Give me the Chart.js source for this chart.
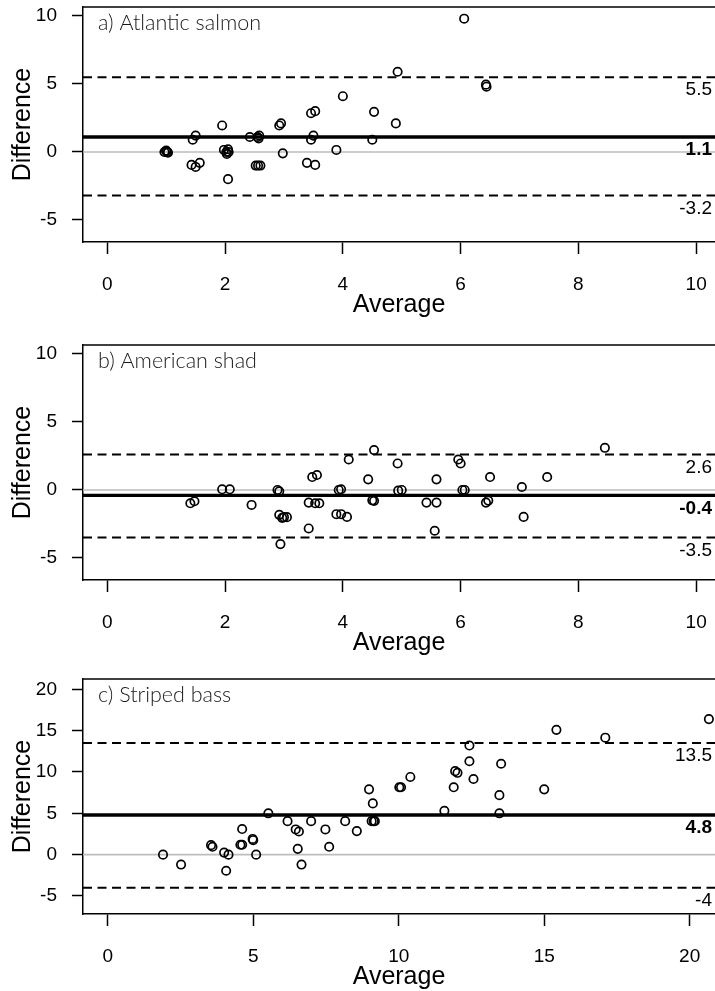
<!DOCTYPE html>
<html>
<head>
<meta charset="utf-8">
<script src="https://cdn.jsdelivr.net/npm/chart.js@4.4.0/dist/chart.umd.min.js"></script>
<style>
  body { margin: 0; background: #fff; overflow: hidden; }
  .panel { position: absolute; left: 0; width: 715px; height: 320px; }
</style>
</head>
<body>
<div class="panel" style="top:0px"><canvas id="salmon" width="715" height="320"></canvas></div>
<div class="panel" style="top:338px"><canvas id="shad" width="715" height="320"></canvas></div>
<div class="panel" style="top:672px"><canvas id="bass" width="715" height="320"></canvas></div>
<script>
// a) Atlantic salmon
const salmonAvg = [0.97, 1.0, 1.02, 1.03, 1.0, 1.45, 1.5, 1.43, 1.5, 1.57, 1.95, 1.98, 2.02, 2.03, 2.06, 2.05, 2.05,
  2.42, 2.55, 2.58, 2.57, 2.52, 2.56, 2.6, 2.92, 2.95, 2.98, 3.46, 3.53, 3.5, 3.46, 3.39, 3.53, 3.89, 4.0,
  4.53, 4.5, 4.9, 4.93, 6.06, 6.43, 6.44];
const salmonDiff = [0, 0.05, 0, -0.05, 0.1, 0.9, 1.2, -0.95, -1.1, -0.8, 1.95, 0.15, 0, -0.15, 0, 0.2, -2.0,
  1.1, 1.1, 1.2, 1.0, -1.0, -1.0, -1.0, 1.95, 2.1, -0.1, 2.85, 3.0, 1.2, 0.9, -0.8, -0.95, 0.15, 4.1,
  2.95, 0.9, 2.1, 5.9, 9.8, 4.95, 4.8];
const salmonLines = [5.5, 1.1, -3.2]; // upper limit, mean, lower limit

// b) American shad
const shadAvg = [1.41, 1.48, 1.95, 2.08, 2.45, 2.89, 2.92, 2.92, 2.97, 3.0, 3.05, 2.94, 3.42, 3.42, 3.53, 3.6,
  3.48, 3.56, 3.93, 3.97, 3.89, 3.97, 4.07, 4.1, 4.43, 4.5, 4.53, 4.53, 4.93, 4.94, 5.0, 5.42, 5.59, 5.59,
  5.56, 5.96, 6.0, 6.03, 6.07, 6.43, 6.47, 6.5, 7.04, 7.07, 7.47, 8.45];
const shadDiff = [-0.98, -0.83, 0.05, 0.05, -1.1, 0, -0.1, -1.83, -2.05, -2.0, -2.0, -3.98, -2.83, -0.93, -0.98, -0.98,
  0.95, 1.1, 0, 0.05, -1.78, -1.78, -1.98, 2.24, 0.78, -0.76, -0.8, 2.93, 1.95, -0.05, 0, -0.93, -0.93, 0.78,
  -3.0, 2.24, 1.95, 0, 0, -0.93, -0.78, 0.95, 0.22, -1.98, 0.95, 3.1];
const shadLines = [2.6, -0.4, -3.5];

// c) Striped bass
const bassAvg = [1.9, 2.52, 3.55, 3.6, 4.0, 4.15, 4.07, 4.62, 4.56, 4.62, 4.98, 5.0, 5.1, 5.52, 6.18, 6.46, 6.57,
  6.53, 6.66, 6.99, 7.48, 7.61, 8.16, 8.56, 8.98, 9.11, 9.07, 9.14, 9.18, 10.02, 10.08, 10.4, 11.57, 11.89,
  11.94, 12.02, 12.43, 12.43, 12.57, 13.46, 13.46, 13.52, 15.0, 15.42, 17.1, 20.66];
const bassDiff = [0, -1.2, 1.15, 0.95, 0.25, 0, -1.95, 3.1, 1.2, 1.2, 1.9, 1.75, 0, 5.0, 4.05, 3.05, 2.8,
  0.7, -1.2, 4.05, 3.05, 0.95, 4.05, 2.85, 7.9, 6.2, 4.05, 4.05, 4.05, 8.15, 8.15, 9.4, 5.3, 8.15,
  10.1, 9.9, 13.2, 11.3, 9.15, 7.2, 5.0, 11.0, 7.9, 15.1, 14.15, 16.4];
const bassLines = [13.5, 4.8, -4];

const smallTicks = [0, 2, 4, 6, 8, 10];
const smallYTicks = [-5, 0, 5, 10];
const bassXTicks = [0, 5, 10, 15, 20];
const bassYTicks = [-5, 0, 5, 10, 15, 20];

const axisFont = 'Liberation Sans';

const panelDecor = {
  id: 'panelDecor',
  afterDatasetsDraw(chart, args, opts) {
    const {ctx, chartArea: a, scales: {y}} = chart;
    ctx.save();
    ctx.strokeStyle = '#000';
    ctx.lineWidth = 1.5;
    ctx.beginPath();
    ctx.moveTo(a.left, a.top);
    ctx.lineTo(a.right, a.top);
    ctx.stroke();

    ctx.fillStyle = '#1a1a1a';
    ctx.font = '300 21.5px Lato';
    ctx.textAlign = 'left';
    ctx.textBaseline = 'middle';
    ctx.fillText(opts.title, a.left + 15, a.top + 16);

    ctx.fillStyle = '#000';
    ctx.textAlign = 'right';
    opts.lines.forEach((v, i) => {
      ctx.font = (i == 1 ? 'bold ' : '') + '19px "' + axisFont + '"';
      ctx.fillText(String(v), a.right - 3, y.getPixelForValue(v) + 13);
    });
    ctx.restore();
  }
};

function hLine(v, xr, style) {
  return Object.assign({
    type: 'line',
    data: [{x: xr[0], y: v}, {x: xr[1], y: v}],
    pointRadius: 0,
    borderColor: '#000',
    fill: false,
    order: 2
  }, style);
}

function makePanel(id, title, avg, diff, lines, xr, yr, xTicks, yTicks) {
  const pts = avg.map((a, i) => ({x: a, y: diff[i]}));
  new Chart(document.getElementById(id), {
    type: 'scatter',
    data: {
      datasets: [
        {
          data: pts,
          pointStyle: 'circle',
          pointRadius: 4.2,
          pointBorderWidth: 1.7,
          borderColor: '#000',
          backgroundColor: 'rgba(0,0,0,0)',
          order: 0
        },
        hLine(0, xr, {borderColor: '#bdbdbd', borderWidth: 1.6, order: 4}),
        hLine(lines[0], xr, {borderWidth: 2, borderDash: [9, 5.5], order: 3}),
        hLine(lines[2], xr, {borderWidth: 2, borderDash: [9, 5.5], order: 3}),
        hLine(lines[1], xr, {borderWidth: 3.4, order: 2})
      ]
    },
    options: {
      responsive: false,
      animation: false,
      devicePixelRatio: 1,
      layout: {autoPadding: false, padding: {top: 7, left: 0, right: 0, bottom: 0}},
      plugins: {
        legend: {display: false},
        tooltip: {enabled: false},
        panelDecor: {title: title, lines: lines}
      },
      scales: {
        x: {
          type: 'linear',
          min: xr[0],
          max: xr[1],
          afterBuildTicks: s => { s.ticks = xTicks.map(v => ({value: v})); },
          afterFit: s => { s.height = 78; s.paddingLeft = 0; s.paddingRight = 0; },
          ticks: {font: {family: axisFont, size: 19}, color: '#000', padding: 19, maxRotation: 0, autoSkip: false},
          grid: {drawOnChartArea: false, drawTicks: true, tickLength: 12, tickColor: '#000', tickWidth: 1.5},
          border: {color: '#000', width: 1.5},
          title: {display: true, text: 'Average', color: '#000', font: {family: axisFont, size: 25}, padding: {top: 0, bottom: 0}}
        },
        y: {
          type: 'linear',
          min: yr[0],
          max: yr[1],
          afterBuildTicks: s => { s.ticks = yTicks.map(v => ({value: v})); },
          afterFit: s => { s.width = 83; s.paddingTop = 0; s.paddingBottom = 0; },
          ticks: {font: {family: axisFont, size: 19}, color: '#000', padding: 15, autoSkip: false},
          grid: {drawOnChartArea: false, drawTicks: true, tickLength: 11, tickColor: '#000', tickWidth: 1.5},
          border: {color: '#000', width: 1.5},
          title: {display: true, text: 'Difference', color: '#000', font: {family: axisFont, size: 25}, padding: {top: 8, bottom: 0}}
        }
      }
    },
    plugins: [panelDecor]
  });
}

makePanel('salmon', 'a) Atlantic salmon', salmonAvg, salmonDiff, salmonLines, [-0.413, 10.32], [-6.62, 10.66], smallTicks, smallYTicks);
makePanel('shad', 'b) American shad', shadAvg, shadDiff, shadLines, [-0.413, 10.32], [-6.62, 10.66], smallTicks, smallYTicks);
makePanel('bass', 'c) Striped bass', bassAvg, bassDiff, bassLines, [-0.85, 20.87], [-7.18, 21.25], bassXTicks, bassYTicks);
</script>
</body>
</html>
